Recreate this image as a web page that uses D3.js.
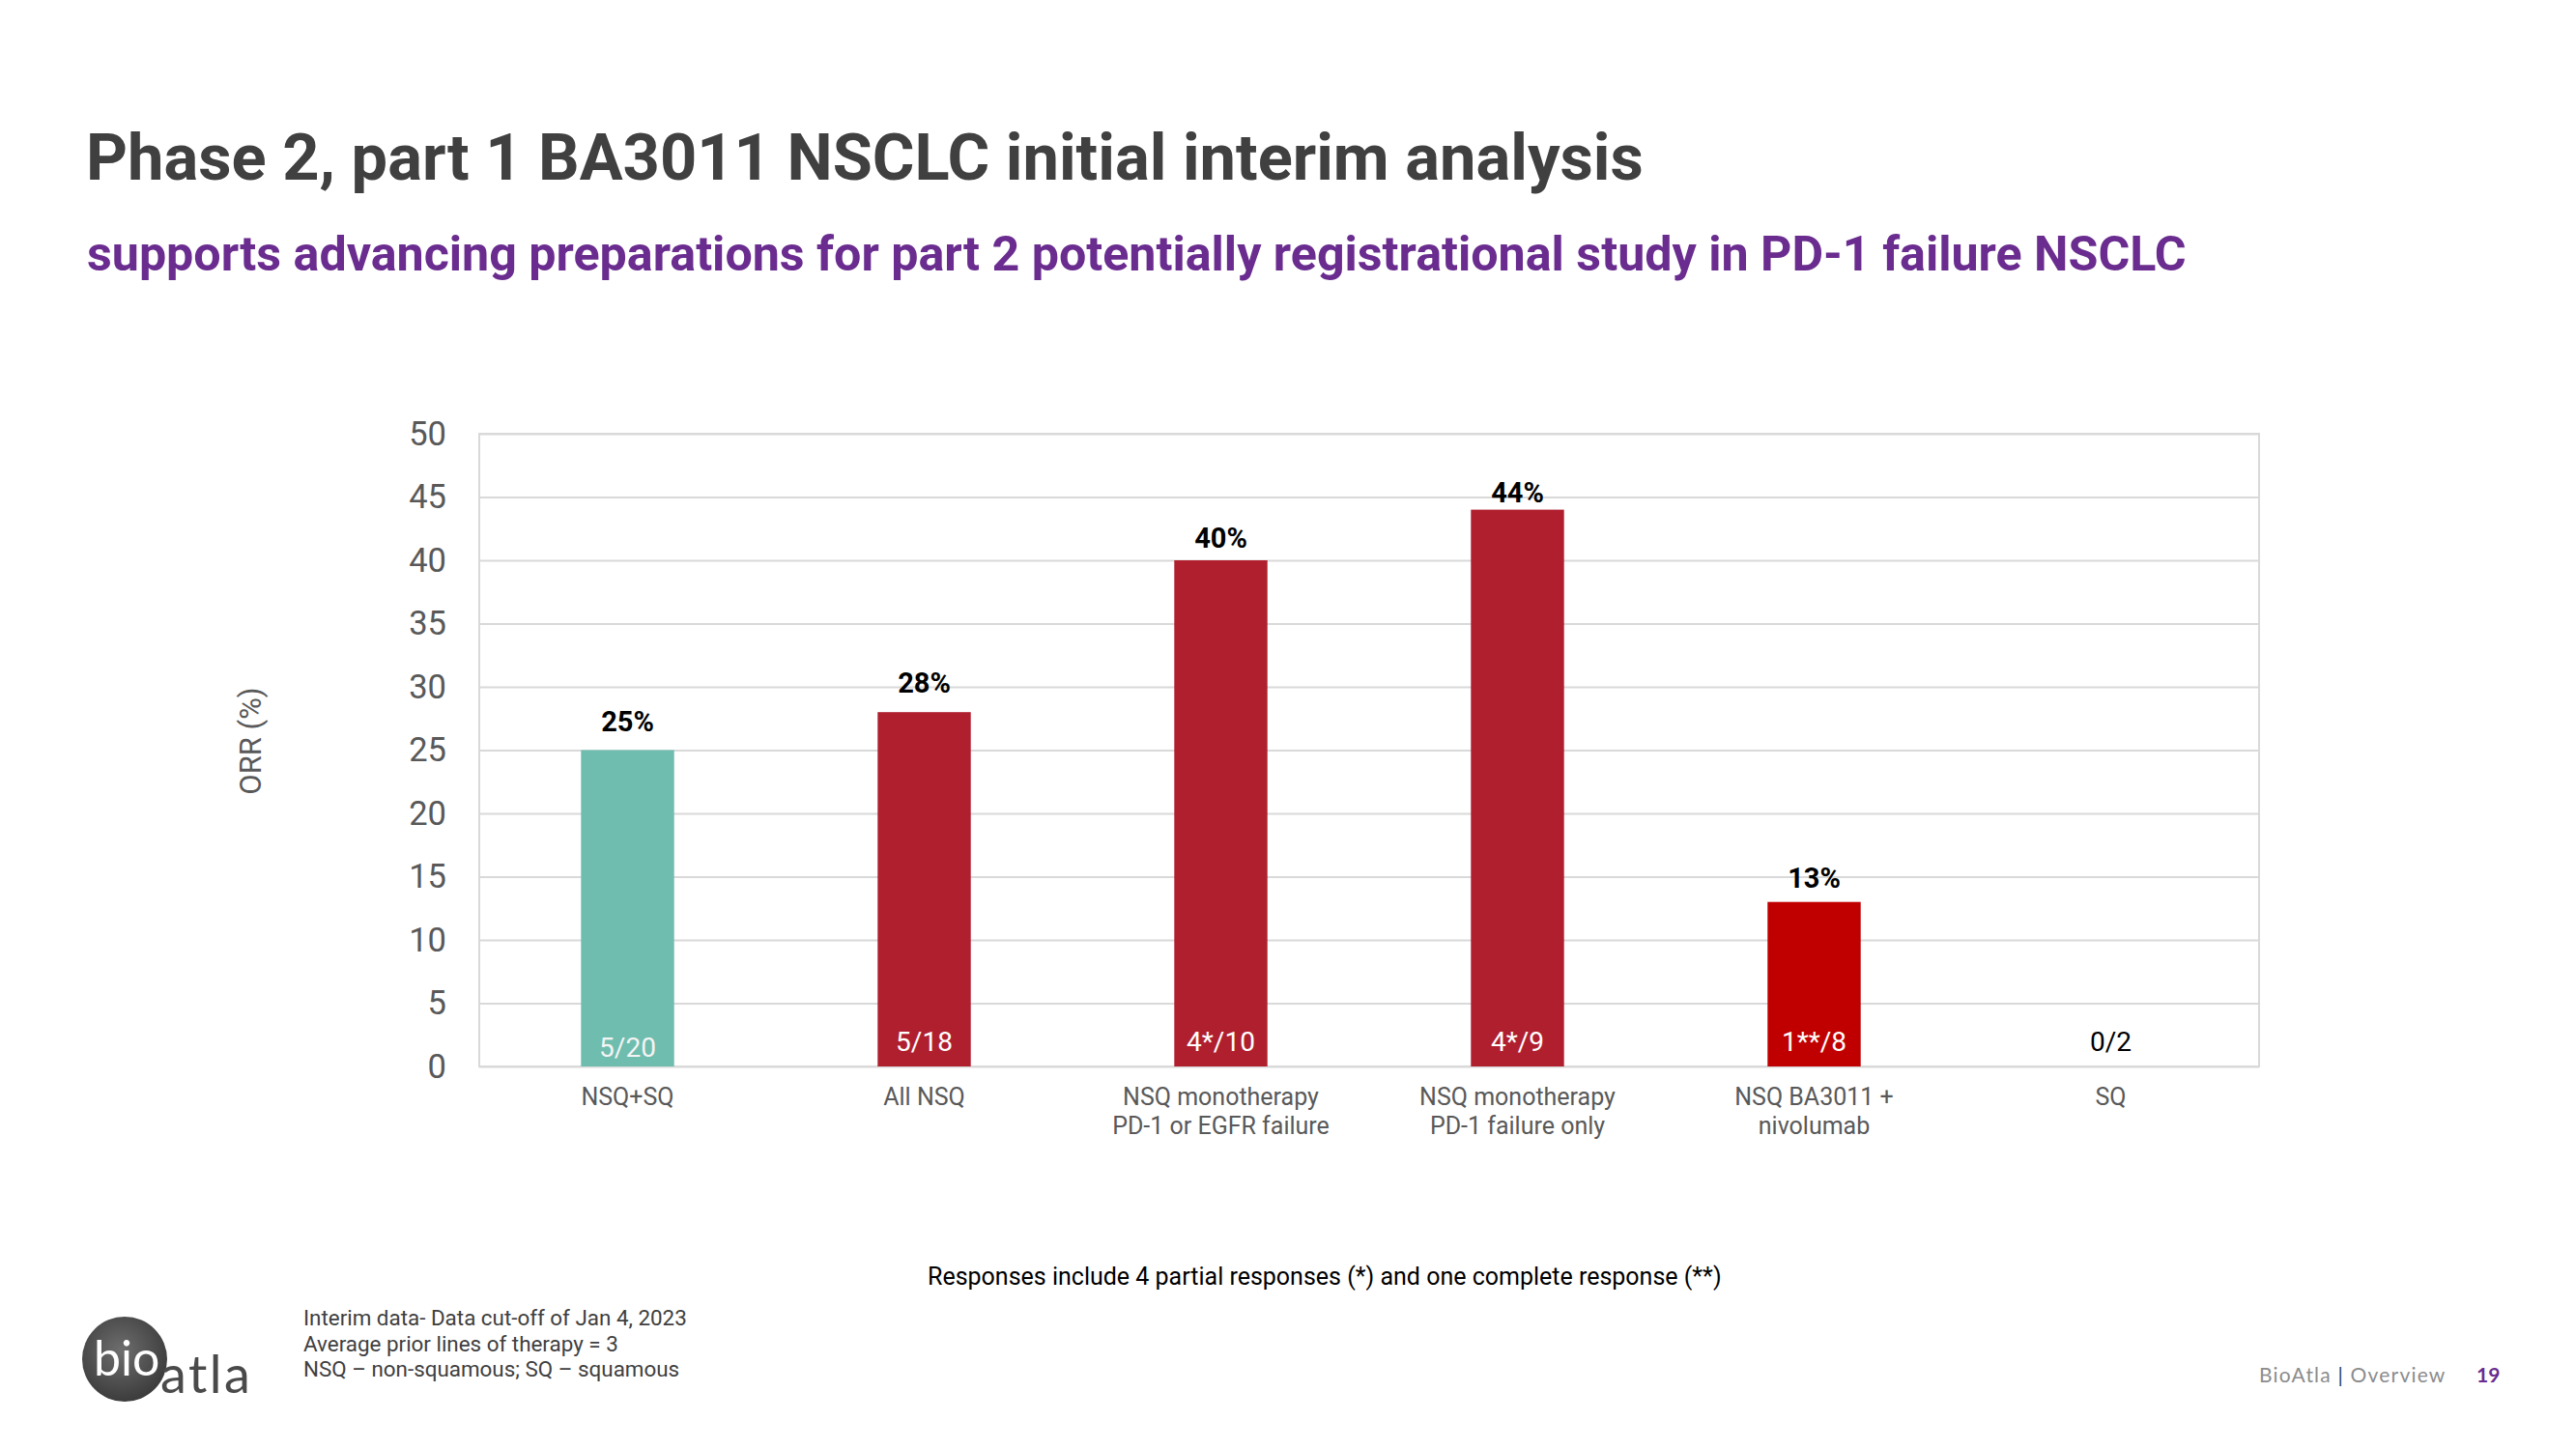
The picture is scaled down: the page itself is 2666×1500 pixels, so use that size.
<!DOCTYPE html>
<html>
<head>
<meta charset="utf-8">
<script src="https://cdn.jsdelivr.net/npm/d3@7"></script>
<style>
  html, body { margin: 0; padding: 0; background: #ffffff; }
  svg { display: block; font-family: Roboto, "Noto Sans", sans-serif; }
</style>
</head>
<body>
<div id="slide"></div>
<script>
// ORR by patient group
const categories = ["NSQ+SQ", "All NSQ", "NSQ mono PD-1/EGFR", "NSQ mono PD-1", "NSQ BA3011 + nivo", "SQ"];
const categoryLines = [
    ["NSQ+SQ"],
    ["All NSQ"],
    ["NSQ monotherapy", "PD-1 or EGFR failure"],
    ["NSQ monotherapy", "PD-1 failure only"],
    ["NSQ BA3011 +", "nivolumab"],
    ["SQ"]
];
const orrValues = [25, 28, 40, 44, 13, 0];
const responseLabels = ["5/20", "5/18", "4*/10", "4*/9", "1**/8", "0/2"];
const yTicks = [0, 5, 10, 15, 20, 25, 30, 35, 40, 45, 50];

const footnotes = [
    "Interim data- Data cut-off of Jan 4, 2023",
    "Average prior lines of therapy = 3",
    "NSQ \u2013 non-squamous; SQ \u2013 squamous"
];

const W = 2666, H = 1500;
const plot = { left: 496, right: 2338, top: 449, bottom: 1104 };

const svg = d3.select("#slide")
    .append("svg")
    .attr("width", W)
    .attr("height", H);

// titles
svg.append("text")
    .attr("x", 89).attr("y", 186)
    .attr("font-size", 66.8).attr("font-weight", 700)
    .attr("fill", "#404040")
    .text("Phase 2, part 1 BA3011 NSCLC initial interim analysis");

svg.append("text")
    .attr("x", 90).attr("y", 280)
    .attr("font-size", 50.2).attr("font-weight", 700)
    .attr("fill", "#6a2c8f")
    .text("supports advancing preparations for part 2 potentially registrational study in PD-1 failure NSCLC");

// scales
const x = d3.scaleBand()
    .domain(categories)
    .range([plot.left, plot.right])
    .paddingInner(0.686)
    .paddingOuter(0.343);

const y = d3.scaleLinear()
    .domain([0, 50])
    .range([plot.bottom, plot.top]);

// grid + y labels
const yAxis = svg.append("g")
    .attr("transform", `translate(${plot.left},0)`)
    .call(d3.axisLeft(y).tickValues(yTicks).tickSize(-(plot.right - plot.left)).tickPadding(34));

yAxis.select(".domain").remove();
yAxis.selectAll(".tick line")
    .attr("stroke", "#d9d9d9")
    .attr("stroke-width", 2);
yAxis.selectAll(".tick text")
    .attr("font-family", "Roboto, sans-serif")
    .attr("font-size", 34.5)
    .attr("fill", "#595959");

// plot frame
svg.append("rect")
    .attr("x", plot.left).attr("y", plot.top)
    .attr("width", plot.right - plot.left)
    .attr("height", plot.bottom - plot.top)
    .attr("fill", "none")
    .attr("stroke", "#d9d9d9")
    .attr("stroke-width", 2);

svg.append("text")
    .attr("transform", "translate(270,767) rotate(-90)")
    .attr("text-anchor", "middle")
    .attr("font-size", 31)
    .attr("fill", "#595959")
    .text("ORR (%)");

const rows = categories.map((c, i) => ({
    cat: c, value: orrValues[i], n: responseLabels[i], lines: categoryLines[i], i
}));

const barFill = d => d.cat === "NSQ+SQ" ? "#6fbdae" : (d.cat === "NSQ BA3011 + nivo" ? "#c00000" : "#b01f2e");
// the slide sets its value labels at slightly uneven gaps above the bars
const pctGap = [20, 20, 13, 8, 15, 0];

svg.append("g").selectAll("rect")
    .data(rows.filter(d => d.value > 0))
    .join("rect")
    .attr("x", d => x(d.cat))
    .attr("y", d => y(d.value))
    .attr("width", x.bandwidth())
    .attr("height", d => y(0) - y(d.value))
    .attr("fill", barFill);

// percent labels above bars
svg.append("g").selectAll("text")
    .data(rows.filter(d => d.value > 0))
    .join("text")
    .attr("x", d => x(d.cat) + x.bandwidth() / 2)
    .attr("y", d => y(d.value) - pctGap[d.i])
    .attr("text-anchor", "middle")
    .attr("font-size", 29)
    .attr("font-weight", 700)
    .attr("fill", "#000000")
    .text(d => d.value + "%");

// responders / n inside the bars
svg.append("g").selectAll("text")
    .data(rows)
    .join("text")
    .attr("x", d => x(d.cat) + x.bandwidth() / 2)
    .attr("y", d => y(0) - (d.i === 0 ? 10 : 16))
    .attr("text-anchor", "middle")
    .attr("font-size", 28)
    .attr("fill", d => d.value > 0 ? (d.i === 0 ? "#f4f4f4" : "#ffffff") : "#000000")
    .text(d => d.n);

// category labels
const catG = svg.append("g").selectAll("text")
    .data(rows)
    .join("text")
    .attr("text-anchor", "middle")
    .attr("font-size", 25)
    .attr("fill", "#595959");

catG.selectAll("tspan")
    .data(d => d.lines.map(l => ({ l, cx: x(d.cat) + x.bandwidth() / 2 })))
    .join("tspan")
    .attr("x", d => d.cx)
    .attr("y", (d, k) => 1144 + k * 30)
    .text(d => d.l);

// note under chart
svg.append("text")
    .attr("x", 960).attr("y", 1330)
    .attr("font-size", 25)
    .attr("fill", "#000000")
    .text("Responses include 4 partial responses (*) and one complete response (**)");

svg.append("g").selectAll("text")
    .data(footnotes)
    .join("text")
    .attr("x", 314)
    .attr("y", (d, i) => 1372 + i * 26.5)
    .attr("font-size", 22.4)
    .attr("fill", "#404040")
    .text(d => d);

// logo
const defs = svg.append("defs");
const grad = defs.append("radialGradient")
    .attr("id", "logoGrad")
    .attr("cx", "45%").attr("cy", "40%").attr("r", "60%");
grad.append("stop").attr("offset", "0%").attr("stop-color", "#6e6e6e");
grad.append("stop").attr("offset", "100%").attr("stop-color", "#3c3c3c");

const logo = svg.append("g");
logo.append("circle")
    .attr("cx", 129).attr("cy", 1407).attr("r", 44)
    .attr("fill", "url(#logoGrad)");
logo.append("text")
    .attr("x", 97).attr("y", 1424)
    .attr("font-family", "Lato, sans-serif")
    .attr("font-size", 50)
    .attr("font-weight", 400)
    .attr("fill", "#ffffff")
    .text("bio");
logo.append("text")
    .attr("x", 166).attr("y", 1442)
    .attr("font-family", "Lato, sans-serif")
    .attr("font-size", 54)
    .attr("letter-spacing", 2.5)
    .attr("fill", "#4a4a4a")
    .text("atla");

// page footer
const foot = svg.append("text")
    .attr("x", 2338).attr("y", 1431)
    .attr("font-family", "Lato, sans-serif")
    .attr("font-size", 21)
    .attr("letter-spacing", 1.2);
foot.append("tspan").attr("fill", "#8c8c8c").text("BioAtla ");
foot.append("tspan").attr("fill", "#1f3864").text("|");
foot.append("tspan").attr("fill", "#8c8c8c").text(" Overview");
svg.append("text")
    .attr("x", 2563).attr("y", 1431)
    .attr("font-family", "Lato, sans-serif")
    .attr("font-size", 21)
    .attr("font-weight", 700)
    .attr("fill", "#6a2c8f")
    .text("19");
</script>
</body>
</html>
